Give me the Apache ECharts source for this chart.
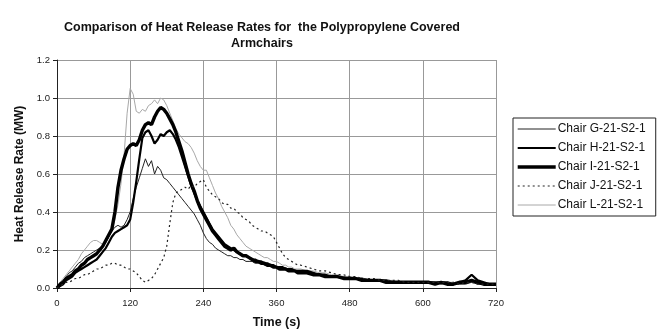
<!DOCTYPE html>
<html>
<head>
<meta charset="utf-8">
<script src="https://cdn.jsdelivr.net/npm/echarts@6/dist/echarts.min.js"></script>
<style>html,body{margin:0;padding:0;background:#fff}#c{width:662px;height:331px}</style>
</head>
<body>
<div id="c"></div>
<script>
const titleText = 'Comparison of Heat Release Rates for  the Polypropylene Covered\nArmchairs';
const xName = 'Time (s)';
const yName = 'Heat Release Rate (MW)';
const seriesNames = ['Chair G-21-S2-1','Chair H-21-S2-1','Chair I-21-S2-1','Chair J-21-S2-1','Chair L-21-S2-1'];

const times = [0,5,10,15,20,25,30,35,40,45,50,55,60,65,70,75,80,85,90,95,
100,105,110,115,120,125,130,135,140,145,150,155,160,165,170,175,180,185,190,195,
200,205,210,215,220,225,230,235,240,245,250,255,260,265,270,275,280,285,290,295,
300,305,310,315,320,325,330,335,340,345,350,355,360,365,370,375,380,385,390,395,400,
410,420,430,440,450,460,470,480,490,500,510,520,530,540,550,560,570,580,590,600,610,620,630,640,650,660,670,680,690,700,710,720];

const chairG = [0.00,0.02,0.04,0.06,0.08,0.09,0.11,0.13,0.14,0.16,0.17,0.18,0.19,0.20,0.21,0.22,0.24,0.27,0.30,0.32,
0.33,0.32,0.33,0.36,0.40,0.47,0.53,0.58,0.63,0.68,0.64,0.67,0.60,0.64,0.62,0.58,0.57,0.55,0.53,0.51,
0.49,0.47,0.45,0.43,0.41,0.39,0.36,0.33,0.29,0.26,0.24,0.23,0.21,0.20,0.19,0.18,0.17,0.17,0.16,0.16,
0.15,0.15,0.14,0.14,0.14,0.13,0.13,0.13,0.12,0.12,0.12,0.11,0.11,0.11,0.10,0.10,0.10,0.09,0.09,0.09,0.09,
0.08,0.08,0.07,0.07,0.06,0.06,0.06,0.05,0.05,0.05,0.04,0.04,0.04,0.04,0.03,0.03,0.03,0.03,0.03,0.03,0.03,0.03,0.02,0.03,0.02,0.02,0.02,0.03,0.02,0.02,0.02,0.02];

const chairH = [0.00,0.01,0.02,0.04,0.05,0.06,0.08,0.09,0.10,0.11,0.12,0.13,0.14,0.15,0.17,0.19,0.21,0.24,0.27,0.29,
0.30,0.31,0.32,0.33,0.36,0.45,0.56,0.68,0.79,0.82,0.83,0.80,0.76,0.78,0.81,0.80,0.82,0.83,0.81,0.78,
0.74,0.69,0.64,0.59,0.54,0.50,0.46,0.43,0.40,0.37,0.34,0.31,0.29,0.27,0.25,0.23,0.22,0.21,0.20,0.19,
0.18,0.17,0.17,0.16,0.15,0.15,0.14,0.14,0.13,0.13,0.12,0.12,0.11,0.11,0.11,0.10,0.10,0.10,0.09,0.09,0.09,
0.09,0.08,0.07,0.07,0.06,0.06,0.05,0.05,0.05,0.05,0.04,0.04,0.04,0.04,0.03,0.03,0.03,0.03,0.03,0.03,0.03,0.03,0.03,0.03,0.02,0.03,0.04,0.07,0.04,0.03,0.02,0.02];

const chairI = [0.00,0.02,0.03,0.05,0.06,0.07,0.09,0.10,0.12,0.13,0.15,0.16,0.17,0.18,0.20,0.22,0.25,0.28,0.31,0.40,
0.53,0.62,0.68,0.73,0.75,0.76,0.75,0.78,0.83,0.86,0.87,0.86,0.90,0.93,0.95,0.94,0.92,0.89,0.86,0.82,
0.77,0.72,0.66,0.60,0.55,0.51,0.46,0.42,0.39,0.36,0.33,0.30,0.28,0.26,0.24,0.22,0.21,0.20,0.21,0.19,
0.18,0.17,0.17,0.16,0.15,0.14,0.14,0.13,0.13,0.12,0.12,0.11,0.11,0.10,0.10,0.10,0.09,0.09,0.09,0.08,0.08,
0.08,0.07,0.07,0.06,0.06,0.06,0.05,0.05,0.05,0.04,0.04,0.04,0.04,0.03,0.03,0.03,0.03,0.03,0.03,0.03,0.03,0.02,0.03,0.02,0.02,0.03,0.03,0.04,0.03,0.02,0.02,0.02];

const chairJ = [0.00,0.01,0.02,0.03,0.03,0.04,0.05,0.05,0.06,0.07,0.07,0.08,0.09,0.10,0.10,0.11,0.12,0.12,0.13,0.13,
0.12,0.12,0.11,0.10,0.10,0.09,0.08,0.06,0.04,0.03,0.04,0.05,0.07,0.10,0.13,0.16,0.22,0.34,0.45,0.50,
0.51,0.52,0.53,0.52,0.54,0.53,0.55,0.56,0.57,0.53,0.51,0.49,0.48,0.47,0.45,0.44,0.44,0.42,0.42,0.40,
0.39,0.37,0.36,0.35,0.33,0.32,0.31,0.30,0.30,0.29,0.28,0.27,0.24,0.21,0.18,0.16,0.15,0.14,0.13,0.12,0.12,
0.11,0.10,0.09,0.09,0.08,0.07,0.07,0.06,0.06,0.05,0.05,0.05,0.04,0.04,0.04,0.04,0.03,0.03,0.03,0.03,0.03,0.03,0.03,0.03,0.03,0.02,0.03,0.03,0.02,0.02,0.02,0.02];

const chairL = [0.00,0.03,0.05,0.07,0.09,0.11,0.13,0.15,0.18,0.20,0.22,0.24,0.25,0.25,0.24,0.23,0.24,0.27,0.30,0.36,
0.44,0.55,0.70,0.92,1.05,1.02,0.93,0.92,0.94,0.93,0.96,0.97,0.99,0.97,1.00,0.99,0.96,0.92,0.88,0.84,
0.81,0.79,0.77,0.76,0.74,0.71,0.67,0.64,0.62,0.62,0.58,0.54,0.50,0.47,0.43,0.40,0.37,0.33,0.31,0.28,
0.26,0.24,0.22,0.21,0.20,0.19,0.18,0.17,0.16,0.16,0.15,0.14,0.14,0.13,0.12,0.12,0.11,0.11,0.10,0.10,0.10,
0.09,0.09,0.08,0.08,0.07,0.07,0.06,0.06,0.05,0.05,0.05,0.04,0.04,0.04,0.04,0.03,0.03,0.03,0.03,0.03,0.03,0.03,0.03,0.03,0.03,0.02,0.03,0.03,0.03,0.02,0.02,0.02];

const seriesValues = [chairG, chairH, chairI, chairJ, chairL];
const lineStyles = [
  {color:'#222', width:1, type:'solid'},
  {color:'#000', width:2.2, type:'solid'},
  {color:'#000', width:3.4, type:'solid'},
  {color:'#222', width:1.2, type:[2,3]},
  {color:'#a8a8a8', width:1, type:'solid'}
];

const font = 'Liberation Sans, Arial, sans-serif';
const chart = echarts.init(document.getElementById('c'), null, {renderer:'canvas'});
chart.setOption({
  animation:false,
  backgroundColor:'#fff',
  textStyle:{fontFamily:font},
  title:{
    text:titleText, left:257, top:15, textAlign:'center',
    textStyle:{fontSize:12.5, fontWeight:'bold', color:'#111', lineHeight:16, fontFamily:font}
  },
  legend:{
    orient:'vertical', left:513, top:118,
    data:seriesNames,
    itemWidth:38, itemHeight:10, itemGap:7,
    itemStyle:{opacity:0, borderWidth:0},
    lineStyle:{width:'inherit'},
    borderColor:'#222', borderWidth:1, padding:[5,10,5,3],
    textStyle:{fontSize:12, color:'#111', fontFamily:font, padding:[0,0,0,-3]}
  },
  grid:{left:57, right:166, top:60, bottom:43, outerBoundsMode:'none', containLabel:false},
  xAxis:{
    type:'value', min:0, max:720, interval:120,
    name:xName, nameLocation:'middle', nameGap:28,
    nameTextStyle:{fontSize:12.5, fontWeight:'bold', color:'#111', fontFamily:font},
    axisLine:{show:true, lineStyle:{color:'#222', width:1}},
    axisTick:{show:true, length:4, lineStyle:{color:'#222'}},
    axisLabel:{fontSize:9.5, color:'#222', margin:10, fontFamily:font},
    splitLine:{show:true, lineStyle:{color:'#999', width:1}}
  },
  yAxis:{
    type:'value', min:0, max:1.2, interval:0.2,
    name:yName, nameLocation:'middle', nameGap:31, nameRotate:90,
    nameTextStyle:{fontSize:12, fontWeight:'bold', color:'#111', fontFamily:font},
    axisLine:{show:true, lineStyle:{color:'#222', width:1}},
    axisTick:{show:true, length:4, lineStyle:{color:'#222'}},
    axisLabel:{fontSize:9.5, color:'#222', margin:7, fontFamily:font, formatter:v=>v.toFixed(1)},
    splitLine:{show:true, lineStyle:{color:'#999', width:1}}
  },
  series: seriesNames.map((n,k)=>({
    name:n, type:'line', symbol:'none', showSymbol:false,
    data: times.map((t,i)=>[t, seriesValues[k][i]]),
    lineStyle: lineStyles[k], itemStyle:{color:lineStyles[k].color},
    z: k===4 ? 1 : 2
  }))
});
</script>
</body>
</html>
